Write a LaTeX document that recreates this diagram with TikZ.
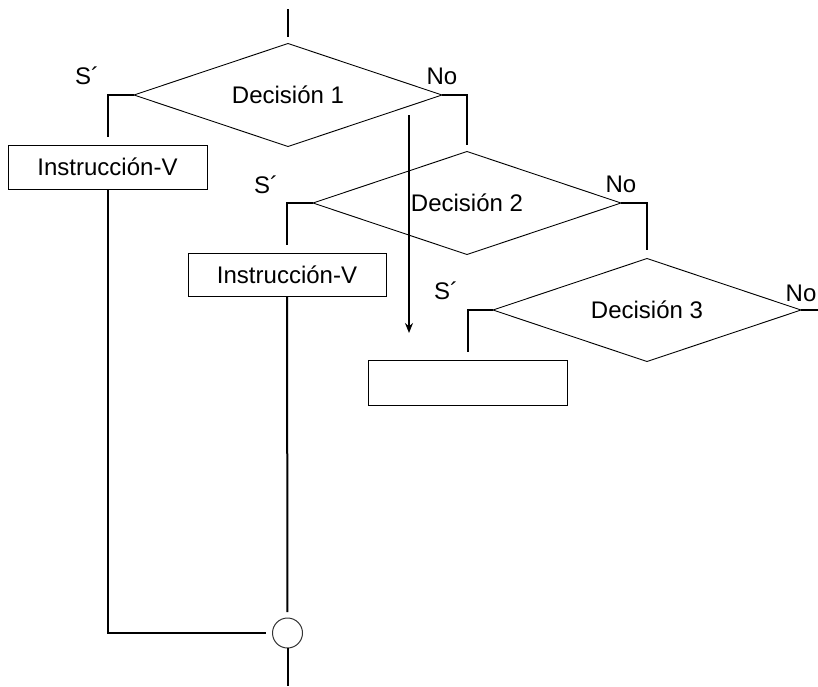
\documentclass[tikz,border=0pt]{standalone}
\usepackage{fontspec}
\setmainfont{Liberation Sans}
\usetikzlibrary{shapes.geometric,arrows.meta}
\begin{document}
\begin{tikzpicture}[x=1pt,y=-1pt,
  txt/.style={font=\fontsize{24}{28}\selectfont, inner sep=0pt},
  decbox/.style={draw, line width=0.9pt, shape=diamond, minimum width=308pt, minimum height=103pt, inner sep=0pt, outer sep=0pt},
  insbox/.style={draw, line width=0.9pt, minimum width=199pt, minimum height=44pt, inner sep=0pt, outer sep=0pt, font=\fontsize{24}{28}\selectfont},
  conn/.style={line width=2pt},
  joint/.style={draw=black!80, line width=1pt, circle, minimum size=30pt, inner sep=0pt, outer sep=0pt}
]
\useasboundingbox (0,0) rectangle (818,686);

% decisions
\node[decbox] (d1) at (288,95) {};
\node[decbox] (d2) at (467,203) {};
\node[decbox] (d3) at (647,310) {};
\node[txt, anchor=base, yshift=-8.5pt] (t1) at (d1.center) {Decisión 1};
\node[txt, anchor=base, yshift=-8.5pt] (t2) at (d2.center) {Decisión 2};
\node[txt, anchor=base, yshift=-8.5pt] (t3) at (d3.center) {Decisión 3};

% boxes
\node[insbox] (b1) at (107.5,167) {Instrucción-V};
\node[insbox, minimum width=198pt, minimum height=43pt] (b2) at (287,274.5) {Instrucción-V};
\node[insbox, minimum height=45pt] (b3) at (467.5,382.5) {};

% junction
\node[joint] (jn) at (287.5,633) {};

% labels
\node[txt] (s1) at ([xshift=-47pt,yshift=19pt]d1.west) {S´};
\node[txt] (n1) at ([yshift=19pt]d1.east) {No};
\node[txt] (s2) at ([xshift=-47pt,yshift=18pt]d2.west) {S´};
\node[txt] (n2) at ([yshift=19pt]d2.east) {No};
\node[txt] (s3) at ([xshift=-47pt,yshift=19pt]d3.west) {S´};
\node[txt] (n3) at ([yshift=17pt]d3.east) {No};

% free ends
\coordinate (top) at (288,9);
\coordinate (bot) at (287.5,686);
\coordinate (out3) at (818,310);
\coordinate (arA) at (409,115);
\coordinate (arB) at (409,333);

% connectors
\draw[conn, shorten >=7pt] (top) -- (d1.north);
\draw[conn, shorten >=8pt] (d1.west) -| (b1.north);
\draw[conn, shorten >=7pt] (d1.east) -| (d2.north);
\draw[conn, shorten >=8pt] (d2.west) -| (b2.north);
\draw[conn, shorten >=9pt] (d2.east) -| (d3.north);
\draw[conn, shorten >=8pt] (d3.west) -| (b3.north);
\draw[conn] (d3.east) -- (out3);
\draw[conn, shorten >=6pt] (b2.south) -- (jn.north);
\draw[conn, shorten >=7pt] (b1.south) |- (jn.west);
\draw[conn] (jn.south) -- (bot);
\draw[line width=1.6pt, -{Stealth[length=10pt,width=8pt]}] (arA) -- (arB);
\end{tikzpicture}
\end{document}
